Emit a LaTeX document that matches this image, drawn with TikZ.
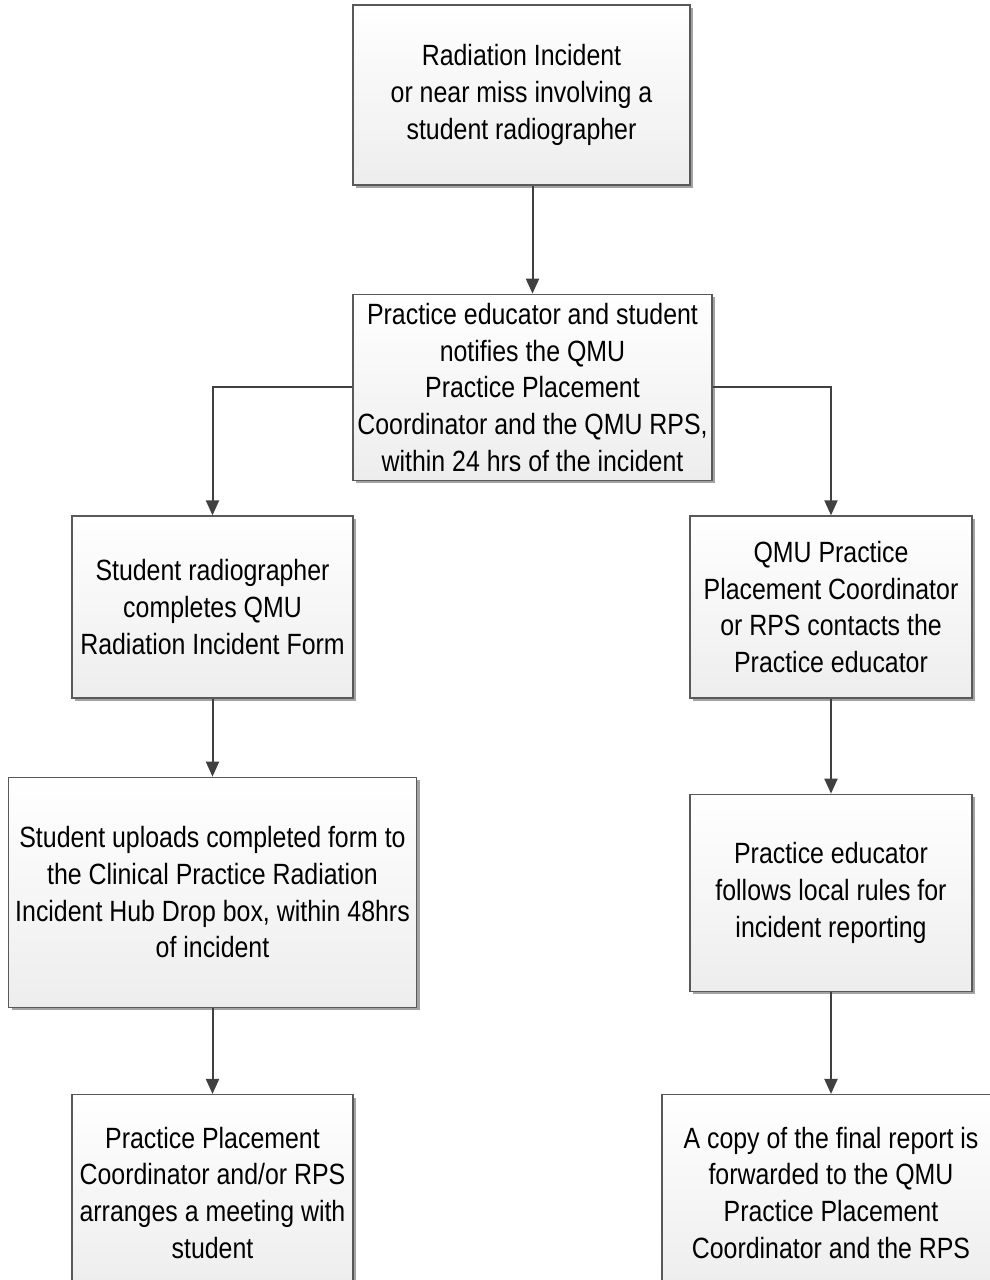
\documentclass[tikz,border=0pt]{standalone}
\usepackage{fontspec}
\setmainfont[FakeStretch=0.85]{Liberation Sans}
\usepackage{tikz}
\usetikzlibrary{arrows.meta, positioning, shadows}

\begin{document}
\begin{tikzpicture}[x=1pt,y=-1pt,>={Triangle[width=13pt,length=15pt]},
  box/.style={draw=black!65,line width=1.3pt,rectangle,top color=white,bottom color=black!7,
    drop shadow={shadow xshift=3pt,shadow yshift=-3pt,fill=black!45,opacity=0.8},
    align=center,inner sep=2pt,font=\fontsize{29.3}{36.7}\selectfont},
  arr/.style={->,draw=black!75,line width=2pt}]
  \useasboundingbox (0,0) rectangle (990,1280);
  \clip (0,0) rectangle (990,1280);
  \node[box,minimum width=337pt,minimum height=180pt] (incident) at (521.5,95)
    {Radiation Incident\\or near miss involving a\\student radiographer};
  \node[box,minimum width=359pt,minimum height=186pt,below=108pt of incident,xshift=11pt] (notify)
    {Practice educator and student\\notifies the QMU\\Practice Placement\\Coordinator and the QMU RPS,\\within 24 hrs of the incident};
  % left branch
  \node[box,minimum width=281pt,minimum height=182pt] (form) at (212.5,607)
    {Student radiographer\\completes QMU\\Radiation Incident Form};
  \node[box,minimum width=408pt,minimum height=230pt,below=78pt of form] (upload)
    {Student uploads completed form to\\the Clinical Practice Radiation\\Incident Hub Drop box, within 48hrs\\of incident};
  \node[box,minimum width=281pt,minimum height=196pt,below=86pt of upload] (meeting)
    {Practice Placement\\Coordinator and/or RPS\\arranges a meeting with\\student};
  % right branch
  \node[box,minimum width=282pt,minimum height=182pt] (contact) at (831,607)
    {QMU Practice\\Placement Coordinator\\or RPS contacts the\\Practice educator};
  \node[box,minimum width=282pt,minimum height=197pt,below=95pt of contact] (rules)
    {Practice educator\\follows local rules for\\incident reporting};
  \node[box,minimum width=338pt,minimum height=196pt,below=102pt of rules] (report)
    {A copy of the final report is\\forwarded to the QMU\\Practice Placement\\Coordinator and the RPS};
  \draw[arr] (incident.south -| notify.north) -- (notify);
  \draw[arr] (notify.west) -| (form);
  \draw[arr] (notify.east) -| (contact);
  \draw[arr] (form) -- (upload);
  \draw[arr] (upload) -- (meeting);
  \draw[arr] (contact) -- (rules);
  \draw[arr] (rules) -- (report);
\end{tikzpicture}
\end{document}
